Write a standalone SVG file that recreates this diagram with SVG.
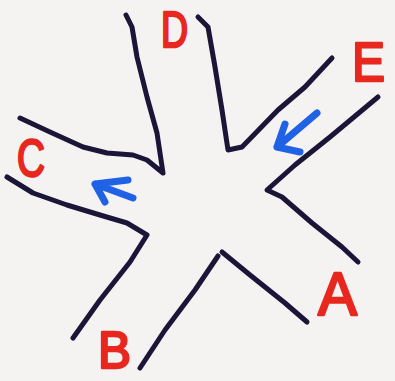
<svg xmlns="http://www.w3.org/2000/svg" width="395" height="381" viewBox="0 0 395 381">
<style>
.road{fill:none;stroke:#1b1638;stroke-width:5;stroke-linecap:round;stroke-linejoin:round}
.lbl{font-family:"Liberation Sans",Arial,sans-serif;font-weight:normal;fill:#e8271f;stroke:#e8271f;stroke-width:2.5;stroke-linejoin:round}
.arr{fill:none;stroke:#1f62e6;stroke-width:7;stroke-linecap:round;stroke-linejoin:round}
</style>
<rect width="395" height="381" fill="#f4f3f1"/>
<g id="roads">
<polyline class="road" points="126,15 132,27 137,57 147,97 157,133 163,173 147,160 133,155 107,153 83,147 50,132 20,118"/>
<polyline class="road" points="198,17 208,27 215,67 222,110 228,150 242,147 278,110 305,87 332,58"/>
<polyline class="road" points="378,97 330,137 295,165 267,190 282,197 312,223 342,247 358,262"/>
<polyline class="road" points="7,177 33,193 67,205 100,215 127,223 147,235 130,262 100,300 73,338"/>
<polyline class="road" points="218,256 195,290 165,330 140,368"/>
<polyline class="road" points="222,252 250,275 285,303 307,322"/>
</g>
<g id="arrows">
<path class="arr" d="M133,198 L95,184 M95,184 L128,180 M95,184 L105,202"/>
<path class="arr" d="M317,113 L277,147 M277,147 L285,124 M277,147 L300,152"/>
</g>
<g id="labels">
<text class="lbl" x="161" y="47" font-size="50" textLength="27" lengthAdjust="spacingAndGlyphs">D</text>
<text class="lbl" x="352" y="81" font-size="56" textLength="33" lengthAdjust="spacingAndGlyphs">E</text>
<text class="lbl" x="17" y="176" font-size="52" textLength="28" lengthAdjust="spacingAndGlyphs">C</text>
<text class="lbl" x="98" y="368" font-size="52" textLength="33" lengthAdjust="spacingAndGlyphs">B</text>
<text class="lbl" x="318" y="315" font-size="62" textLength="39" lengthAdjust="spacingAndGlyphs">A</text>
</g>
</svg>
